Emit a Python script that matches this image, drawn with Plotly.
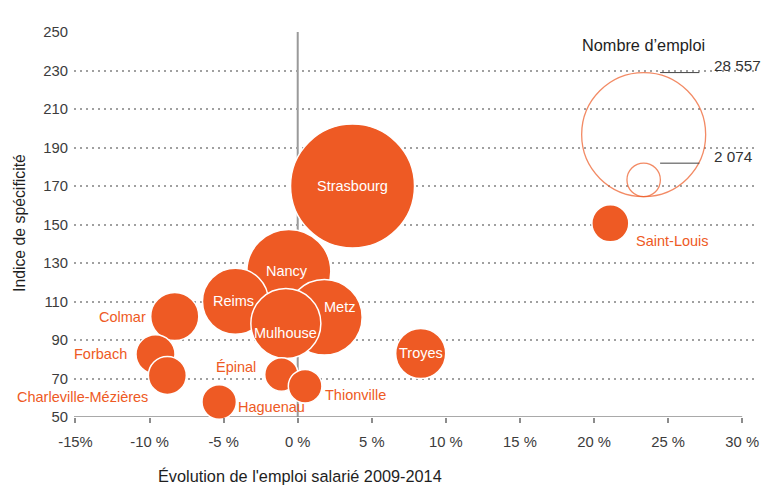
import plotly.graph_objects as go

# Employment zones: change in salaried employment 2009-2014 vs specificity index
villes = ["Strasbourg", "Nancy", "Metz", "Reims", "Mulhouse", "Troyes", "Colmar",
          "Forbach", "Charleville-Mézières", "Saint-Louis", "Haguenau", "Épinal", "Thionville"]
evolution = [3.7, -0.6, 1.8, -4.2, -0.8, 8.3, -8.3, -9.6, -8.8, 21.1, -5.3, -1.1, 0.5]
indice = [170.0, 125.6, 101.8, 110.1, 98.6, 83.0, 102.2, 82.6, 71.6, 150.6, 57.8, 72.1, 66.0]
emploi = [28557, 13100, 10600, 8100, 9100, 4650, 4300, 2830, 2680, 2540, 2200, 2074, 2100]

# Size legend
legende_valeurs = [28557, 2074]
legende_textes = ["28 557", "2 074"]

x_ticks = [-15, -10, -5, 0, 5, 10, 15, 20, 25, 30]
x_ticktext = ["-15%", "-10 %", "-5 %", "0 %", "5 %", "10 %", "15 %", "20 %", "25 %", "30 %"]
y_ticks = [50, 70, 90, 110, 130, 150, 170, 190, 210, 230, 250]

ORANGE = "#EE5A24"
FONT = "Liberation Sans, Arial, sans-serif"
LABEL_SIZE = 14.5
TICK_SIZE = 14.8

W, H = 780, 487
M = dict(l=74, r=23, t=32, b=70)
X_RANGE = [-15.1, 31.0]
Y_RANGE = [50, 250]
plot_h = H - M["t"] - M["b"]
plot_w = W - M["l"] - M["r"]
px_per_y = plot_h / (Y_RANGE[1] - Y_RANGE[0])

MAX_DIAM = 124
sizeref = 2.0 * max(legende_valeurs) / MAX_DIAM ** 2


def diam(v):
    return 2 * (v / (2 * sizeref)) ** 0.5


def paper_x(px):
    return (px - M["l"]) / plot_w


def paper_y(py):
    return (H - M["b"] - py) / plot_h


fig = go.Figure()

fig.add_trace(go.Scatter(
    x=evolution, y=indice, mode="markers",
    marker=dict(size=emploi, sizemode="area", sizeref=sizeref, color=ORANGE,
                opacity=1, line=dict(color="white", width=1.5)),
    cliponaxis=False, hoverinfo="text", text=villes, showlegend=False,
))

# Size legend: nested circles sharing the same bottom point
leg_x = 23.35
leg_bottom = 164.5
leg_y = [leg_bottom + diam(v) / 2 / px_per_y for v in legende_valeurs]
fig.add_trace(go.Scatter(
    x=[leg_x] * len(legende_valeurs), y=leg_y, mode="markers",
    marker=dict(size=legende_valeurs, sizemode="area", sizeref=sizeref,
                color="rgba(0,0,0,0)", line=dict(color=ORANGE, width=1.3)),
    cliponaxis=False, hoverinfo="skip", showlegend=False,
))

shapes = [
    # vertical reference line at 0 %
    dict(type="line", xref="x", yref="y", x0=0, x1=0, y0=50, y1=252,
         line=dict(color="#9a9a9a", width=2), layer="below"),
    # horizontal axis line
    dict(type="line", xref="x", yref="y", x0=X_RANGE[0], x1=30, y0=50, y1=50,
         line=dict(color="#8c8c8c", width=1.5), layer="below"),
]
annotations = []

for v, t, yc in zip(legende_valeurs, legende_textes, leg_y):
    top = yc + diam(v) / 2 / px_per_y
    shapes.append(dict(type="line", xref="x", yref="y", x0=24.46, x1=27.11, y0=top, y1=top,
                       line=dict(color="#444444", width=1)))
    annotations.append(dict(x=27.95, y=top, xref="x", yref="y", text=t, showarrow=False,
                            xanchor="left", yanchor="middle", yshift=7,
                            font=dict(family=FONT, size=15.3, color="#333333")))

annotations.append(dict(x=leg_x, y=243.4, xref="x", yref="y", text="Nombre d’emploi",
                        showarrow=False, xanchor="center", yanchor="middle",
                        font=dict(family=FONT, size=16.3, color="#1e1e1e")))

# Bubble labels: (anchor, xshift, yshift, inside?)
placement = {
    "Strasbourg": ("center", 0, 0, True),
    "Nancy": ("center", -2, 0, True),
    "Metz": ("center", 15, 10, True),
    "Reims": ("center", -2, 0, True),
    "Mulhouse": ("center", 0, -10, True),
    "Troyes": ("center", 0, 0, True),
    "Colmar": ("right", -27, 0, False),
    "Forbach": ("right", -26, 0, False),
    "Charleville-Mézières": ("right", -17, -22, False),
    "Saint-Louis": ("left", 24, -18, False),
    "Haguenau": ("left", 17, -5, False),
    "Épinal": ("right", -23, 7, False),
    "Thionville": ("left", 18, -9, False),
}
for nom, xv, yv in zip(villes, evolution, indice):
    anc, dx, dy, inside = placement[nom]
    annotations.append(dict(
        x=xv, y=yv, xref="x", yref="y", text=nom, showarrow=False,
        xanchor=anc, yanchor="middle", xshift=dx, yshift=dy,
        font=dict(family=FONT, size=LABEL_SIZE, color="white" if inside else ORANGE)))

# Axis titles, placed in paper coordinates
annotations.append(dict(x=paper_x(300), y=paper_y(476), xref="paper", yref="paper",
                        text="Évolution de l'emploi salarié 2009-2014", showarrow=False,
                        xanchor="center", yanchor="middle",
                        font=dict(family=FONT, size=16.3, color="#1e1e1e")))
annotations.append(dict(x=paper_x(19), y=paper_y(223), xref="paper", yref="paper",
                        text="Indice de spécificité", showarrow=False, textangle=-90,
                        xanchor="center", yanchor="middle",
                        font=dict(family=FONT, size=15.8, color="#1e1e1e")))

fig.update_layout(
    width=W, height=H, margin=M,
    paper_bgcolor="white", plot_bgcolor="white",
    font=dict(family=FONT, size=TICK_SIZE, color="#3c3c3c"),
    xaxis=dict(range=X_RANGE, tickvals=x_ticks, ticktext=x_ticktext, showgrid=False,
               zeroline=False, showline=False, ticks="outside", ticklen=5, tickwidth=1.5,
               tickcolor="#8c8c8c", ticklabelstandoff=6,
               tickfont=dict(family=FONT, size=TICK_SIZE, color="#3c3c3c")),
    yaxis=dict(range=Y_RANGE, tickvals=y_ticks, showgrid=True, gridcolor="#a0a0a0",
               gridwidth=1.5, griddash="1.5px,4.5px", zeroline=False, showline=False,
               ticks="", ticklabelstandoff=5,
               tickfont=dict(family=FONT, size=TICK_SIZE, color="#3c3c3c")),
    shapes=shapes, annotations=annotations, showlegend=False,
)

fig.write_html("out.html")
